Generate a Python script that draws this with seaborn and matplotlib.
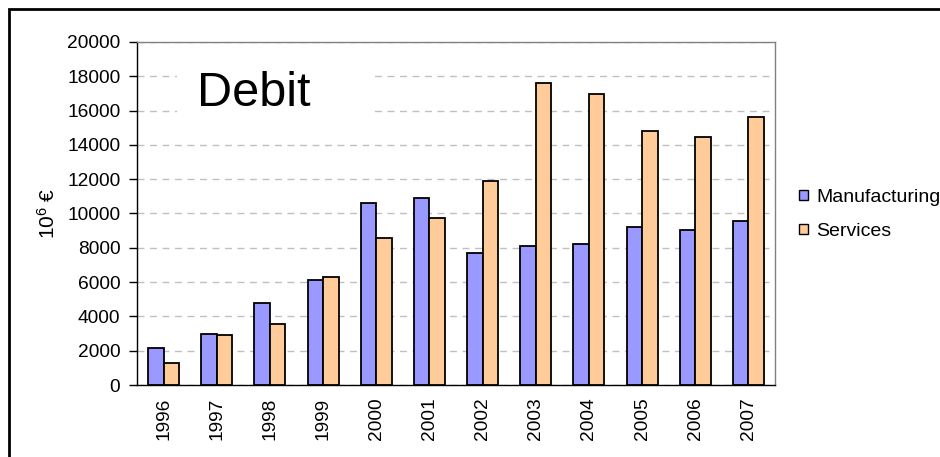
import matplotlib
matplotlib.use("Agg")
import matplotlib.pyplot as plt
import seaborn as sns
import pandas as pd
import numpy as np
from matplotlib.patches import Rectangle, Patch

years = ["1996", "1997", "1998", "1999", "2000", "2001", "2002", "2003",
         "2004", "2005", "2006", "2007"]
manufacturing = [2160, 3000, 4800, 6120, 10630, 10920, 7680, 8120, 8220, 9230, 9020, 9560]
services = [1270, 2900, 3540, 6300, 8550, 9740, 11910, 17590, 16970, 14810, 14440, 15610]
series_names = ["Manufacturing", "Services"]
colors = ["#9999FF", "#FFCC99"]

df = pd.DataFrame({
    "year": years * 2,
    "value": manufacturing + services,
    "series": [series_names[0]] * len(years) + [series_names[1]] * len(years),
})

sns.set_style("white")
plt.rcParams["font.family"] = ["Liberation Sans", "DejaVu Sans"]
plt.rcParams["mathtext.fontset"] = "custom"
plt.rcParams["mathtext.rm"] = "Liberation Sans"
plt.rcParams["mathtext.it"] = "Liberation Sans"
plt.rcParams["text.color"] = "black"
plt.rcParams["axes.labelcolor"] = "black"
plt.rcParams["xtick.color"] = "black"
plt.rcParams["ytick.color"] = "black"

FS = 13.8

fig = plt.figure(figsize=(9.4, 4.57), dpi=100)
ax = fig.add_axes([137 / 940, 1 - 385 / 457, (775 - 137) / 940, (385 - 42) / 457])

sns.barplot(data=df, x="year", y="value", hue="series", palette=colors,
            saturation=1, width=0.58, gap=0, edgecolor="black", linewidth=1.3,
            ax=ax, legend=False, zorder=3)

ax.set_ylim(0, 20000)
ax.set_xlim(-0.5, len(years) - 0.5)
ax.set_yticks(np.arange(0, 20001, 2000))
ax.set_yticklabels([str(v) for v in range(0, 20001, 2000)], fontsize=FS)
ax.set_xticks(range(len(years)))
ax.set_xticklabels(years, rotation=90, fontsize=FS)
ax.set_xticks(np.arange(-0.5, len(years), 1.0), minor=True)
ax.tick_params(axis="x", which="major", length=0, pad=9)
ax.tick_params(axis="x", which="minor", length=5, width=1, color="black", direction="out")
ax.tick_params(axis="y", which="major", length=6, width=1, color="black",
               direction="out", left=True, pad=6)

ax.yaxis.grid(True, linestyle=(0, (5, 4)), color="#C0C0C0", linewidth=1, zorder=0)
ax.set_axisbelow(True)
ax.set_xlabel("")
ax.set_ylabel(r"10$^{6}$ €", fontsize=15, labelpad=6)

for s in ["top", "right"]:
    ax.spines[s].set_color("#808080")
    ax.spines[s].set_linewidth(1)
for s in ["left", "bottom"]:
    ax.spines[s].set_color("black")
    ax.spines[s].set_linewidth(1)

# white mask behind the title text (covers the gridlines there)
ax.add_patch(Rectangle(((177 - 137) / 638, (385 - 135) / 343), (370 - 177) / 638, 70 / 343,
                       transform=ax.transAxes, facecolor="white", edgecolor="none", zorder=1))
ax.text(197 / 940, 1 - 106 / 457, "Debit", transform=fig.transFigure, fontsize=35,
        ha="left", va="baseline", zorder=5)

handles = [Patch(facecolor=c, edgecolor="black", linewidth=1) for c in colors]
fig.legend(handles, series_names, loc="upper left",
           bbox_to_anchor=(799 / 940, 1 - 189 / 457), frameon=False, fontsize=14,
           handlelength=0.45, handleheight=0.45, handletextpad=0.45, labelspacing=0.88,
           borderaxespad=0, borderpad=0)

fig.patches.append(Rectangle((9 / 940, -0.1), 1.2, 1 - 9 / 457 + 0.1,
                             transform=fig.transFigure, fill=False,
                             edgecolor="black", linewidth=2, zorder=10))

fig.savefig("out.png", dpi=100)
